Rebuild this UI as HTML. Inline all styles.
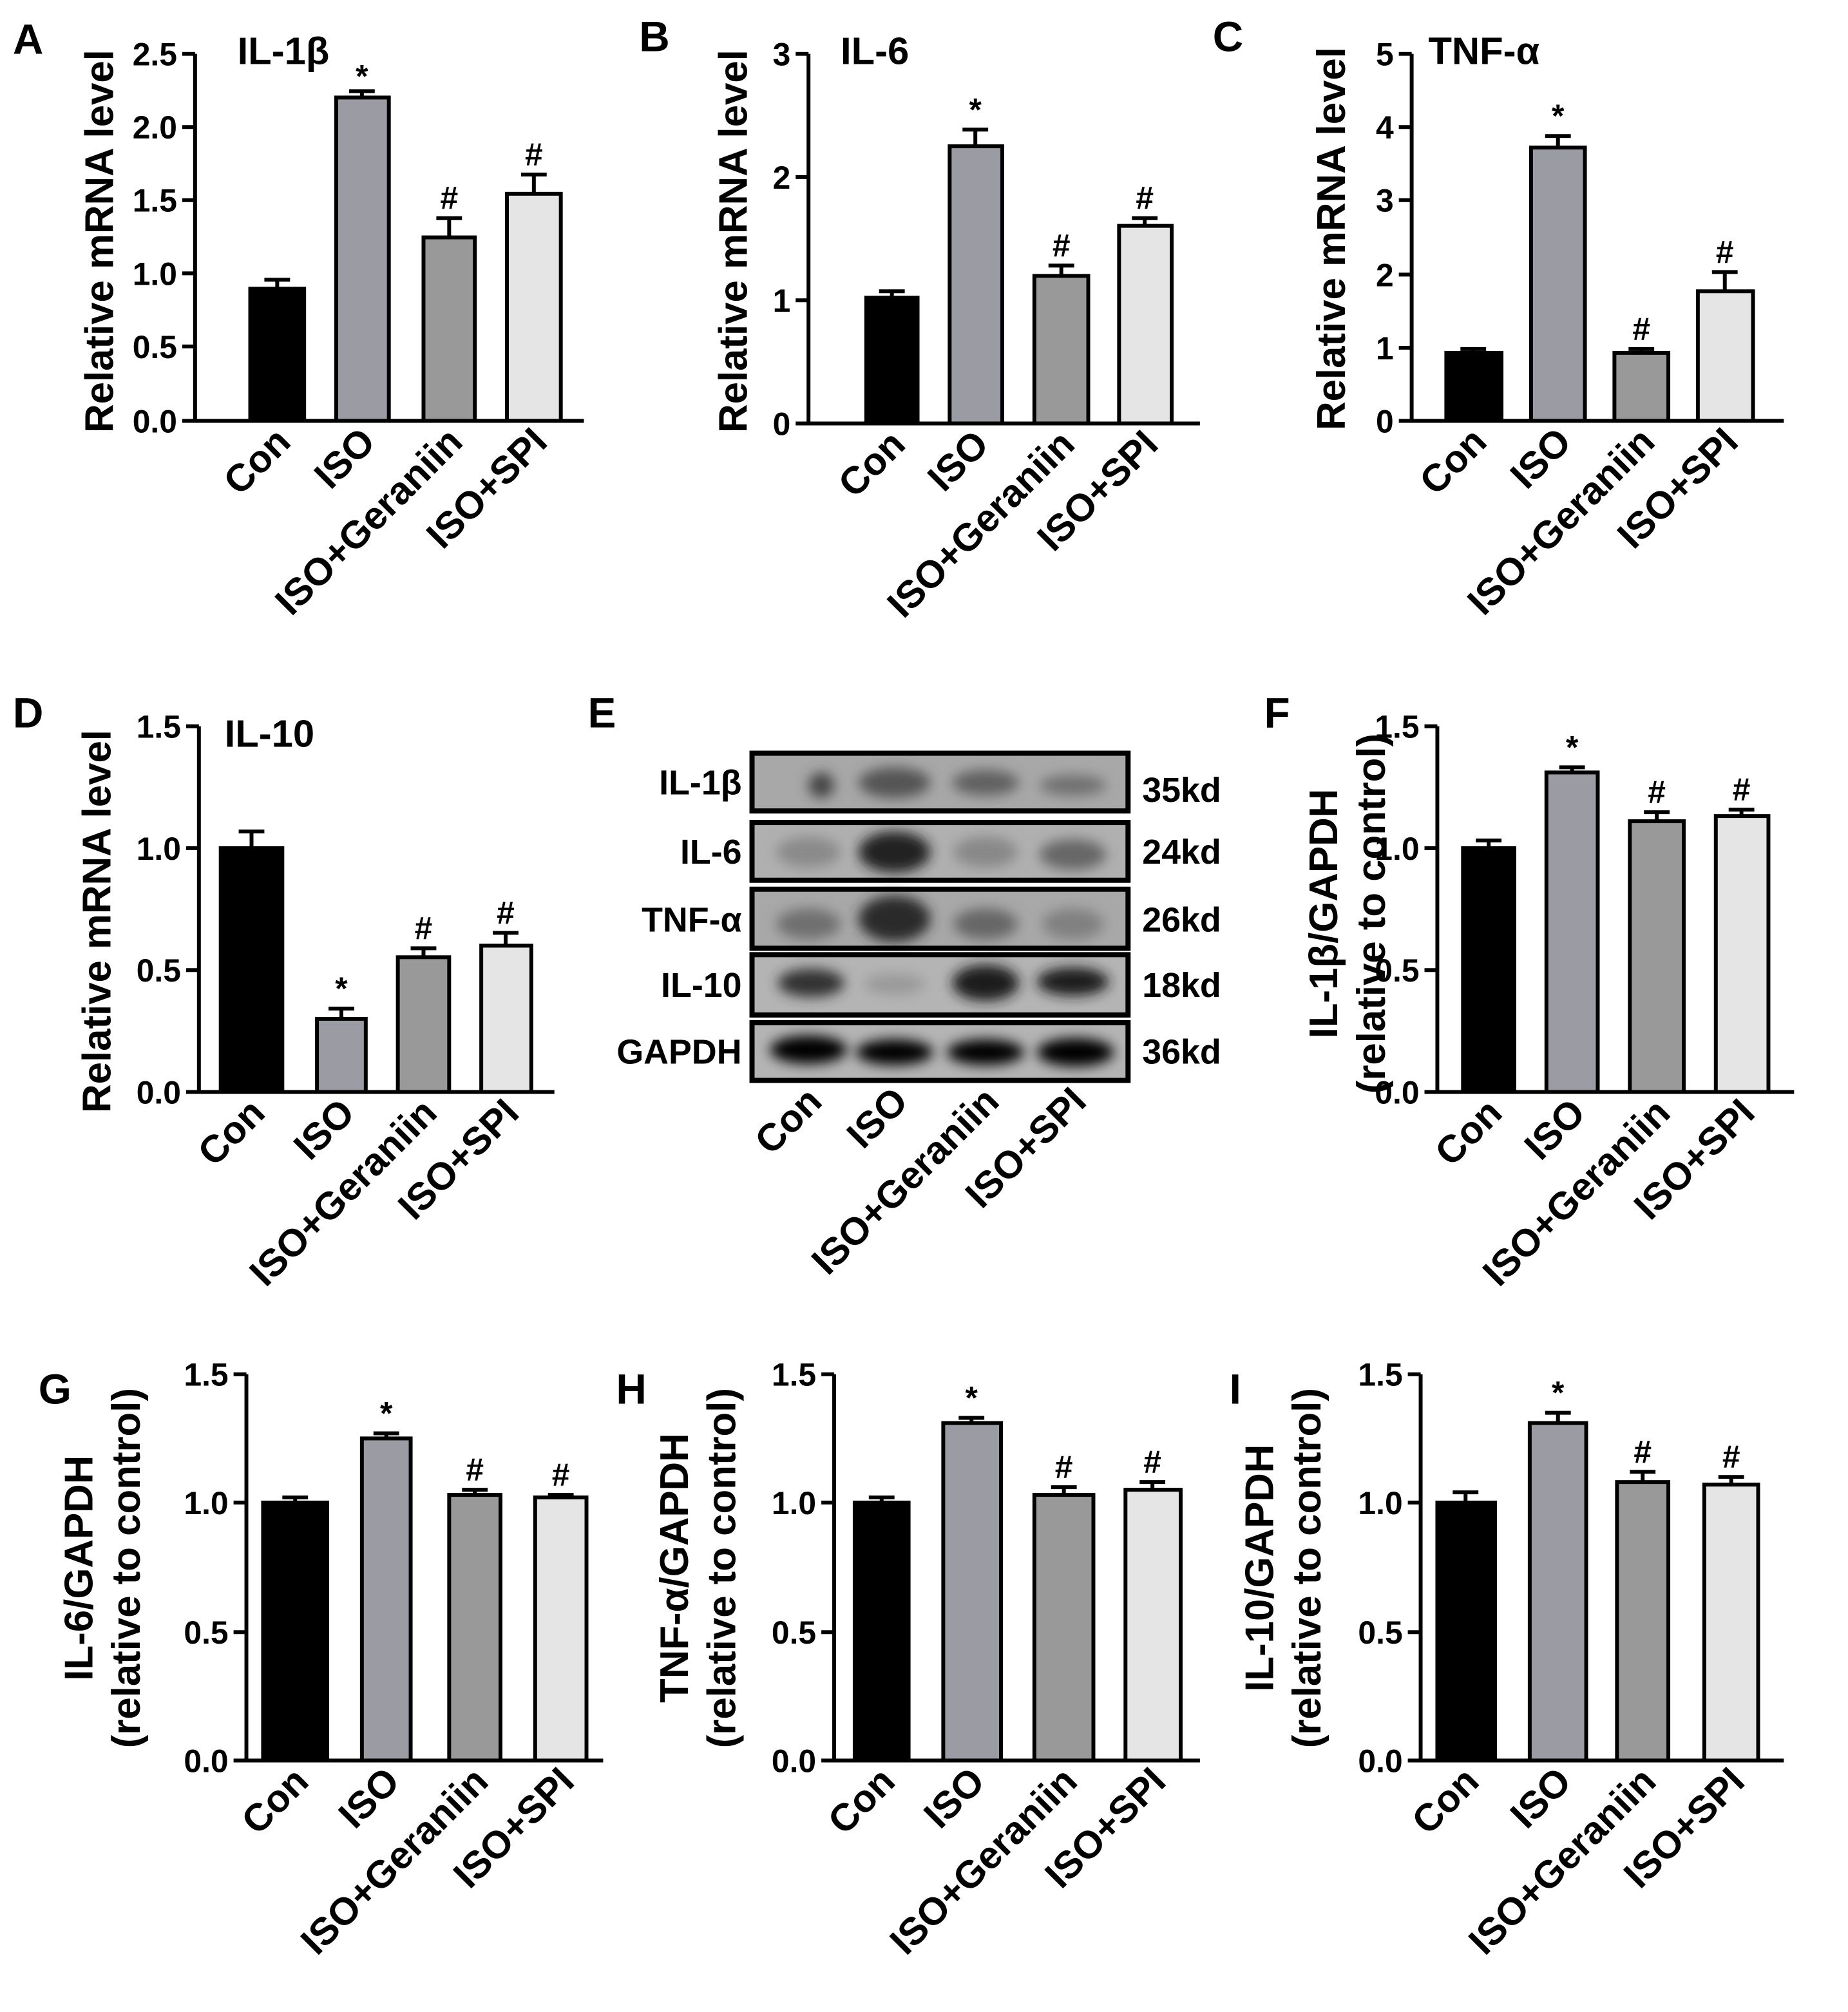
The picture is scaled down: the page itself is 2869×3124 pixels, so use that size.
<!DOCTYPE html>
<html><head><meta charset="utf-8"><style>
html,body{margin:0;padding:0;background:#fff}
svg{display:block}
text{font-family:"Liberation Sans",sans-serif;font-weight:bold;fill:#000}
.t{font-size:25px}
.x{font-size:30px}
.bl{font-size:27px}
.y{font-size:31px}
.L{font-size:33px}
.ti{font-size:30px}
.s{font-size:25px}
</style></head><body>
<svg width="2869" height="3124" viewBox="0 0 1440 1568" preserveAspectRatio="none" xmlns="http://www.w3.org/2000/svg">
<defs><filter id="bl"><feGaussianBlur stdDeviation="5"/></filter></defs>
<g stroke="#000" stroke-width="3" fill="none">
<!-- A -->
<path d="M152 42V328H455M142 328H152M142 270H152M142 213H152M142 156H152M142 99H152M142 42H152"/>
<rect x="195" y="225" width="42" height="103" fill="#000"/><path d="M216 225V218M206 218H226"/>
<rect x="262" y="76" width="41" height="252" fill="#9b9ba3"/><path d="M282 76V71M272 71H292"/>
<rect x="330" y="185" width="40" height="143" fill="#999"/><path d="M350 185V170M340 170H360"/>
<rect x="395" y="151" width="42" height="177" fill="#e5e5e5"/><path d="M416 151V136M406 136H426"/>
<!-- B -->
<path d="M630 42V330H935M620 330H630M620 234H630M620 138H630M620 42H630"/>
<rect x="675" y="232" width="40" height="98" fill="#000"/><path d="M695 232V227M685 227H705"/>
<rect x="740" y="114" width="41" height="216" fill="#9b9ba3"/><path d="M760 114V101M750 101H770"/>
<rect x="806" y="215" width="42" height="115" fill="#999"/><path d="M827 215V207M817 207H837"/>
<rect x="872" y="176" width="41" height="154" fill="#e5e5e5"/><path d="M892 176V170M882 170H902"/>
<!-- C -->
<path d="M1100 42V328H1390M1090 328H1100M1090 271H1100M1090 214H1100M1090 156H1100M1090 99H1100M1090 42H1100"/>
<rect x="1127" y="275" width="43" height="53" fill="#000"/><path d="M1148 275V272M1138 272H1158"/>
<rect x="1193" y="115" width="42" height="213" fill="#9b9ba3"/><path d="M1214 115V106M1204 106H1224"/>
<rect x="1258" y="275" width="42" height="53" fill="#999"/><path d="M1279 275V272M1269 272H1289"/>
<rect x="1323" y="227" width="43" height="101" fill="#e5e5e5"/><path d="M1344 227V212M1334 212H1354"/>
<!-- D -->
<path d="M155 566V851H432M145 851H155M145 756H155M145 661H155M145 566H155"/>
<rect x="172" y="661" width="48" height="190" fill="#000"/><path d="M196 661V648M186 648H206"/>
<rect x="247" y="794" width="38" height="57" fill="#9b9ba3"/><path d="M266 794V786M256 786H276"/>
<rect x="310" y="746" width="40" height="105" fill="#999"/><path d="M330 746V739M320 739H340"/>
<rect x="375" y="737" width="39" height="114" fill="#e5e5e5"/><path d="M394 737V727M384 727H404"/>
<!-- F -->
<path d="M1120 566V851H1398M1110 851H1120M1110 756H1120M1110 661H1120M1110 566H1120"/>
<rect x="1140" y="661" width="40" height="190" fill="#000"/><path d="M1160 661V655M1150 655H1170"/>
<rect x="1205" y="602" width="40" height="249" fill="#9b9ba3"/><path d="M1225 602V598M1215 598H1235"/>
<rect x="1270" y="640" width="42" height="211" fill="#999"/><path d="M1291 640V633M1281 633H1301"/>
<rect x="1337" y="636" width="41" height="215" fill="#e5e5e5"/><path d="M1357 636V631M1347 631H1367"/>
<!-- G -->
<path d="M192 1071V1372H470M182 1372H192M182 1272H192M182 1171H192M182 1071H192"/>
<rect x="205" y="1171" width="50" height="201" fill="#000"/><path d="M230 1171V1167M220 1167H240"/>
<rect x="282" y="1121" width="38" height="251" fill="#9b9ba3"/><path d="M301 1121V1117M291 1117H311"/>
<rect x="350" y="1165" width="40" height="207" fill="#999"/><path d="M370 1165V1161M360 1161H380"/>
<rect x="417" y="1167" width="40" height="205" fill="#e5e5e5"/><path d="M437 1167V1165M427 1165H447"/>
<!-- H -->
<path d="M650 1071V1372H935M640 1372H650M640 1272H650M640 1171H650M640 1071H650"/>
<rect x="666" y="1171" width="42" height="201" fill="#000"/><path d="M687 1171V1167M677 1167H697"/>
<rect x="735" y="1109" width="45" height="263" fill="#9b9ba3"/><path d="M757 1109V1105M747 1105H767"/>
<rect x="806" y="1165" width="46" height="207" fill="#999"/><path d="M829 1165V1159M819 1159H839"/>
<rect x="877" y="1161" width="43" height="211" fill="#e5e5e5"/><path d="M898 1161V1155M888 1155H908"/>
<!-- I -->
<path d="M1107 1071V1372H1390M1097 1372H1107M1097 1272H1107M1097 1171H1107M1097 1071H1107"/>
<rect x="1120" y="1171" width="45" height="201" fill="#000"/><path d="M1142 1171V1163M1132 1163H1152"/>
<rect x="1192" y="1109" width="44" height="263" fill="#9b9ba3"/><path d="M1214 1109V1101M1204 1101H1224"/>
<rect x="1260" y="1155" width="40" height="217" fill="#999"/><path d="M1280 1155V1147M1270 1147H1290"/>
<rect x="1328" y="1157" width="42" height="215" fill="#e5e5e5"/><path d="M1349 1157V1151M1339 1151H1359"/>
</g>

<!-- Blot -->
<g>
<rect x="586" y="587" width="293" height="45" fill="#a8a8a8"/>
<rect x="586" y="641" width="293" height="45" fill="#b0b0b0"/>
<rect x="586" y="693" width="293" height="46" fill="#a8a8a8"/>
<rect x="586" y="744" width="293" height="47" fill="#b4b4b4"/>
<rect x="586" y="797" width="293" height="45" fill="#b4b4b4"/>
<g filter="url(#bl)">
<ellipse cx="640" cy="612" rx="10" ry="10" fill="#444"/>
<ellipse cx="697" cy="610" rx="28" ry="12" fill="#555"/>
<ellipse cx="768" cy="610" rx="26" ry="10" fill="#606060"/>
<ellipse cx="836" cy="612" rx="26" ry="8" fill="#707070"/>
<ellipse cx="697" cy="664" rx="28" ry="16" fill="#222"/>
<ellipse cx="630" cy="664" rx="25" ry="12" fill="#8a8a8a"/>
<ellipse cx="836" cy="666" rx="26" ry="12" fill="#666"/>
<ellipse cx="768" cy="664" rx="25" ry="12" fill="#888"/>
<ellipse cx="697" cy="716" rx="28" ry="18" fill="#2a2a2a"/>
<ellipse cx="630" cy="720" rx="25" ry="12" fill="#707070"/>
<ellipse cx="768" cy="720" rx="25" ry="12" fill="#666"/>
<ellipse cx="836" cy="720" rx="24" ry="12" fill="#808080"/>
<ellipse cx="632" cy="766" rx="26" ry="11" fill="#333"/>
<ellipse cx="697" cy="767" rx="24" ry="8" fill="#999"/>
<ellipse cx="768" cy="766" rx="26" ry="14" fill="#1a1a1a"/>
<ellipse cx="836" cy="765" rx="28" ry="11" fill="#1a1a1a"/>
<ellipse cx="630" cy="818" rx="30" ry="11" fill="#000"/>
<ellipse cx="697" cy="820" rx="30" ry="10" fill="#000"/>
<ellipse cx="768" cy="820" rx="30" ry="10" fill="#000"/>
<ellipse cx="838" cy="820" rx="30" ry="11" fill="#000"/>
</g>
<g stroke="#000" stroke-width="4" fill="none">
<rect x="586" y="587" width="293" height="45"/>
<rect x="586" y="641" width="293" height="45"/>
<rect x="586" y="693" width="293" height="46"/>
<rect x="586" y="744" width="293" height="47"/>
<rect x="586" y="797" width="293" height="45"/>
</g>
<g class="bl" text-anchor="end">
<text x="578" y="619">IL-1β</text><text x="578" y="673">IL-6</text><text x="578" y="726">TNF-α</text><text x="578" y="777">IL-10</text><text x="578" y="829">GAPDH</text>
</g>
<g class="bl">
<text x="890" y="625">35kd</text><text x="890" y="673">24kd</text><text x="890" y="726">26kd</text><text x="890" y="777">18kd</text><text x="890" y="829">36kd</text>
</g>
</g>

<!-- tick labels -->
<g class="t" text-anchor="end">
<text x="138" y="337">0.0</text><text x="138" y="279">0.5</text><text x="138" y="222">1.0</text><text x="138" y="165">1.5</text><text x="138" y="108">2.0</text><text x="138" y="51">2.5</text>
<text x="616" y="339">0</text><text x="616" y="243">1</text><text x="616" y="147">2</text><text x="616" y="51">3</text>
<text x="1086" y="337">0</text><text x="1086" y="280">1</text><text x="1086" y="223">2</text><text x="1086" y="165">3</text><text x="1086" y="108">4</text><text x="1086" y="51">5</text>
<text x="141" y="860">0.0</text><text x="141" y="765">0.5</text><text x="141" y="670">1.0</text><text x="141" y="575">1.5</text>
<text x="1106" y="860">0.0</text><text x="1106" y="765">0.5</text><text x="1106" y="670">1.0</text><text x="1106" y="575">1.5</text>
<text x="178" y="1381">0.0</text><text x="178" y="1281">0.5</text><text x="178" y="1180">1.0</text><text x="178" y="1080">1.5</text>
<text x="636" y="1381">0.0</text><text x="636" y="1281">0.5</text><text x="636" y="1180">1.0</text><text x="636" y="1080">1.5</text>
<text x="1093" y="1381">0.0</text><text x="1093" y="1281">0.5</text><text x="1093" y="1180">1.0</text><text x="1093" y="1080">1.5</text>
</g>

<!-- significance -->
<g class="s" text-anchor="middle">
<text x="282" y="68">*</text><text x="350" y="163">#</text><text x="416" y="129">#</text>
<text x="760" y="94">*</text><text x="827" y="200">#</text><text x="892" y="163">#</text>
<text x="1214" y="99">*</text><text x="1279" y="265">#</text><text x="1344" y="205">#</text>
<text x="266" y="779">*</text><text x="330" y="732">#</text><text x="394" y="720">#</text>
<text x="1225" y="591">*</text><text x="1291" y="626">#</text><text x="1357" y="624">#</text>
<text x="301" y="1110">*</text><text x="370" y="1154">#</text><text x="437" y="1158">#</text>
<text x="757" y="1098">*</text><text x="829" y="1152">#</text><text x="898" y="1148">#</text>
<text x="1214" y="1094">*</text><text x="1280" y="1140">#</text><text x="1349" y="1144">#</text>
</g>

<!-- titles & letters -->
<g class="ti">
<text x="185" y="50">IL-1β</text><text x="655" y="50">IL-6</text><text x="1113" y="50">TNF-α</text><text x="175" y="582">IL-10</text>
</g>
<g class="L">
<text x="10" y="42">A</text><text x="498" y="40">B</text><text x="945" y="40">C</text>
<text x="10" y="567">D</text><text x="458" y="567">E</text><text x="985" y="567">F</text>
<text x="30" y="1094">G</text><text x="480" y="1094">H</text><text x="958" y="1094">I</text>
</g>

<!-- y labels -->
<g class="y" text-anchor="middle">
<text transform="translate(88,188) rotate(-90)">Relative mRNA level</text>
<text transform="translate(582,188) rotate(-90)">Relative mRNA level</text>
<text transform="translate(1048,186) rotate(-90)">Relative mRNA level</text>
<text transform="translate(86,718) rotate(-90)">Relative mRNA level</text>
<text transform="translate(1042,712) rotate(-90)">IL-1β/GAPDH</text>
<text transform="translate(1079,712) rotate(-90)">(relative to control)</text>
<text transform="translate(72,1222) rotate(-90)">IL-6/GAPDH</text>
<text transform="translate(109,1222) rotate(-90)">(relative to control)</text>
<text transform="translate(536,1222) rotate(-90)">TNF-α/GAPDH</text>
<text transform="translate(573,1222) rotate(-90)">(relative to control)</text>
<text transform="translate(992,1222) rotate(-90)">IL-10/GAPDH</text>
<text transform="translate(1029,1222) rotate(-90)">(relative to control)</text>
</g>

<!-- x labels -->
<g class="x" text-anchor="end">
<text transform="translate(228,346) rotate(-45)">Con</text><text transform="translate(294,346) rotate(-45)">ISO</text><text transform="translate(362,346) rotate(-45)">ISO+Geraniin</text><text transform="translate(428,346) rotate(-45)">ISO+SPI</text>
<text transform="translate(707,348) rotate(-45)">Con</text><text transform="translate(772,348) rotate(-45)">ISO</text><text transform="translate(839,348) rotate(-45)">ISO+Geraniin</text><text transform="translate(904,348) rotate(-45)">ISO+SPI</text>
<text transform="translate(1160,346) rotate(-45)">Con</text><text transform="translate(1226,346) rotate(-45)">ISO</text><text transform="translate(1291,346) rotate(-45)">ISO+Geraniin</text><text transform="translate(1356,346) rotate(-45)">ISO+SPI</text>
<text transform="translate(208,869) rotate(-45)">Con</text><text transform="translate(278,869) rotate(-45)">ISO</text><text transform="translate(342,869) rotate(-45)">ISO+Geraniin</text><text transform="translate(406,869) rotate(-45)">ISO+SPI</text>
<text transform="translate(642,860) rotate(-45)">Con</text><text transform="translate(709,860) rotate(-45)">ISO</text><text transform="translate(780,860) rotate(-45)">ISO+Geraniin</text><text transform="translate(848,860) rotate(-45)">ISO+SPI</text>
<text transform="translate(1172,869) rotate(-45)">Con</text><text transform="translate(1237,869) rotate(-45)">ISO</text><text transform="translate(1303,869) rotate(-45)">ISO+Geraniin</text><text transform="translate(1369,869) rotate(-45)">ISO+SPI</text>
<text transform="translate(242,1390) rotate(-45)">Con</text><text transform="translate(313,1390) rotate(-45)">ISO</text><text transform="translate(382,1390) rotate(-45)">ISO+Geraniin</text><text transform="translate(449,1390) rotate(-45)">ISO+SPI</text>
<text transform="translate(699,1390) rotate(-45)">Con</text><text transform="translate(769,1390) rotate(-45)">ISO</text><text transform="translate(841,1390) rotate(-45)">ISO+Geraniin</text><text transform="translate(910,1390) rotate(-45)">ISO+SPI</text>
<text transform="translate(1154,1390) rotate(-45)">Con</text><text transform="translate(1226,1390) rotate(-45)">ISO</text><text transform="translate(1292,1390) rotate(-45)">ISO+Geraniin</text><text transform="translate(1361,1390) rotate(-45)">ISO+SPI</text>
</g>
</svg>
</body></html>
